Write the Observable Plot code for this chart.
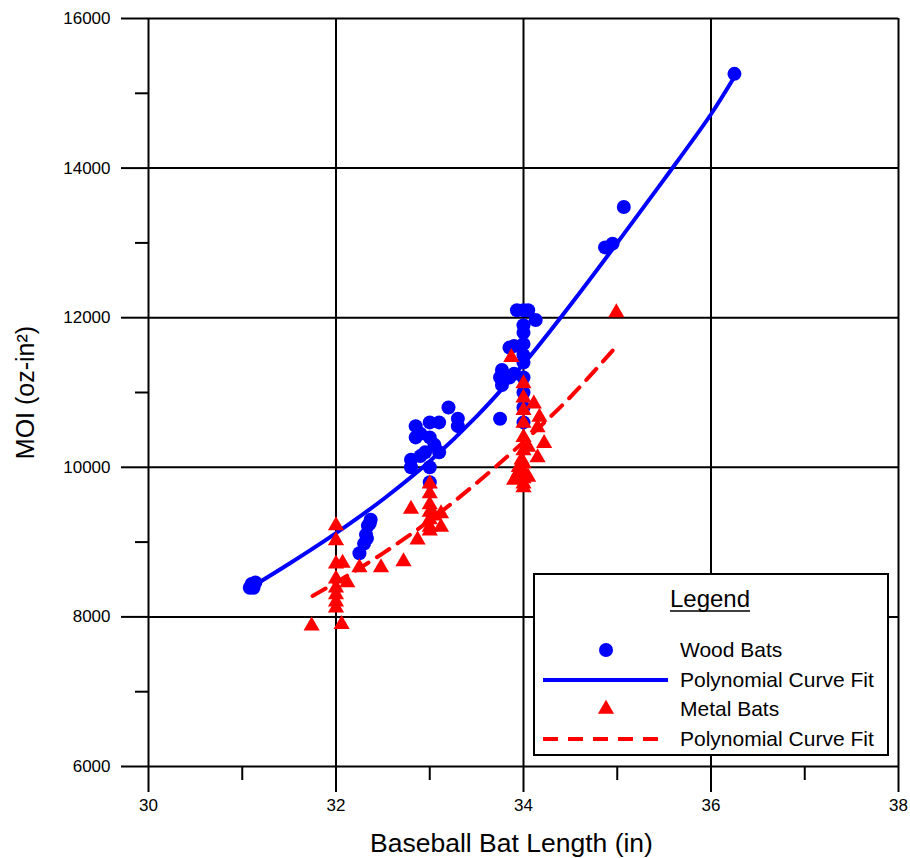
<!DOCTYPE html>
<html><head><meta charset="utf-8">
<script src="https://cdn.jsdelivr.net/npm/d3@7"></script>
<script src="https://cdn.jsdelivr.net/npm/@observablehq/plot@0.6"></script>
<style>
body{margin:0;background:#fff;}
#wrap{position:relative;width:910px;height:858px;}
</style></head><body><div id="wrap"></div>
<script>
// ---- data ----
const woodLength = [31.08, 31.12, 31.10, 31.14,
  32.25, 32.30, 32.32, 32.34, 32.37, 32.36, 32.33,
  32.85, 33.00, 33.10, 33.20, 33.30, 33.30, 32.85, 33.00, 32.80, 32.80, 32.95, 33.10, 33.00, 33.00, 32.90, 32.90, 33.05,
  34.00, 33.93, 34.13, 34.00, 34.00, 33.90, 33.85, 33.77, 33.75, 33.77, 33.85, 33.90, 34.00, 34.00, 34.00, 34.00, 34.00, 34.00, 33.75, 34.00, 34.05,
  35.07, 34.87, 34.95, 36.25];
const woodMOI = [8390, 8390, 8440, 8460,
  8850, 8980, 9100, 9220, 9300, 9250, 9050,
  10550, 10600, 10600, 10800, 10650, 10550, 10400, 10400, 10100, 10000, 10200, 10200, 10000, 9800, 10150, 10450, 10300,
  12100, 12100, 11970, 11800, 11650, 11620, 11600, 11300, 11200, 11100, 11200, 11250, 11500, 11400, 11200, 11000, 10800, 10600, 10650, 11900, 12100,
  13480, 12940, 12990, 15260];

const metalLength = [31.74, 32.06,
  32.00, 32.00, 32.00, 32.00, 32.00, 32.00, 32.00, 32.00,
  32.07, 32.12, 32.25, 32.48, 32.72, 32.80,
  33.00, 33.00, 33.00, 33.00, 33.00, 33.00, 33.00,
  33.12, 33.12, 32.87, 33.05,
  34.00, 34.00, 34.00, 34.00, 34.00, 34.00, 34.00, 34.00, 34.00, 34.00, 34.00,
  33.87, 34.11, 34.17, 34.15, 34.22, 34.15, 34.05, 33.94, 33.90, 34.05, 33.95, 33.98,
  34.99];
const metalMOI = [7880, 7900,
  9220, 9020, 8710, 8510, 8390, 8300, 8200, 8120,
  8720, 8460, 8660, 8660, 8740, 9440,
  9780, 9650, 9500, 9400, 9300, 9200, 9150,
  9380, 9200, 9030, 9350,
  11120, 10930, 10760, 10590, 10400, 10225, 10050, 9950, 9850, 9780, 9730,
  11470, 10850, 10670, 10530, 10320, 10130, 10270, 9920, 9830, 9870, 10000, 10100,
  12070];

const woodFitLength = [31.1, 31.5, 32.0, 32.5, 33.0, 33.5, 34.0, 34.5, 35.0, 35.5, 36.0, 36.25];
const woodFitMOI    = [8400, 8710, 9120, 9570, 10080, 10680, 11380, 12170, 13000, 13850, 14720, 15220];

const metalFitLength = [31.75, 32.0, 32.5, 33.0, 33.5, 34.0, 34.5, 34.95];
const metalFitMOI    = [8280, 8460, 8850, 9290, 9790, 10340, 10940, 11560];

const xMajorTicks = [30, 32, 34, 36, 38];
const xMinorTicks = [31, 33, 35, 37];
const yMajorTicks = [6000, 8000, 10000, 12000, 14000, 16000];
const yMinorTicks = [7000, 9000, 11000, 13000, 15000];

const xTitle = "Baseball Bat Length (in)";
const yTitle = "MOI (oz-in²)";
const legendTitle = "Legend";
const legendLabels = ["Wood Bats", "Polynomial Curve Fit", "Metal Bats", "Polynomial Curve Fit"];

const BLUE = "#0000ff", RED = "#ff0000";
const FONT = "'Liberation Sans', Arial, sans-serif";

const wood = woodLength.map((x, i) => ({x, y: woodMOI[i]}));
const metal = metalLength.map((x, i) => ({x, y: metalMOI[i]}));
const woodFit = woodFitLength.map((x, i) => ({x, y: woodFitMOI[i]}));
const metalFit = metalFitLength.map((x, i) => ({x, y: metalFitMOI[i]}));

const chart = Plot.plot({
  width: 910, height: 858,
  marginLeft: 148, marginRight: 12, marginTop: 18, marginBottom: 92,
  style: {fontFamily: FONT, fontSize: "17px", background: "white", color: "black", overflow: "visible"},
  x: {domain: [30, 38]},
  y: {domain: [6000, 16000]},
  marks: [
    Plot.ruleX(xMajorTicks, {stroke: "black", strokeWidth: 2}),
    Plot.ruleY(yMajorTicks, {stroke: "black", strokeWidth: 2}),
    Plot.axisX(xMajorTicks, {tickSize: 26, text: null, strokeWidth: 2, strokeOpacity: 1, label: null}),
    Plot.axisX(xMinorTicks, {tickSize: 14, text: null, strokeWidth: 2, strokeOpacity: 1, label: null}),
    Plot.axisY(yMajorTicks, {tickSize: 27, text: null, strokeWidth: 2, strokeOpacity: 1, label: null}),
    Plot.axisY(yMinorTicks, {tickSize: 13, text: null, strokeWidth: 2, strokeOpacity: 1, label: null}),
    Plot.text(xMajorTicks, {x: d => d, text: d => String(d), frameAnchor: "bottom", dy: 39, fontSize: 17, lineAnchor: "middle", textAnchor: "middle"}),
    Plot.text(yMajorTicks, {y: d => d, text: d => String(d), frameAnchor: "left", dx: -38, fontSize: 17, lineAnchor: "middle", textAnchor: "end"}),
    Plot.dot(wood, {x: "x", y: "y", r: 7, fill: BLUE, stroke: null}),
    Plot.line(woodFit, {x: "x", y: "y", stroke: BLUE, strokeWidth: 4, curve: "catmull-rom"}),
    Plot.dot(metal, {x: "x", y: "y", symbol: "triangle", r: 6, fill: RED, stroke: null}),
    Plot.line(metalFit, {x: "x", y: "y", stroke: RED, strokeWidth: 4, strokeDasharray: "15,10", curve: "catmull-rom"}),
    Plot.text([xTitle], {frameAnchor: "bottom", dx: -12, dy: 77, fontSize: 26.5, lineAnchor: "middle", textAnchor: "middle"}),
    Plot.text([yTitle], {frameAnchor: "left", dx: -123, rotate: -90, fontSize: 25, lineAnchor: "middle", textAnchor: "middle"})
  ]
});
document.getElementById("wrap").appendChild(chart);

// ---- legend box ----
const svg = d3.select(chart);
const g = svg.append("g").attr("font-family", FONT).attr("text-anchor", "start");
g.append("rect").attr("x", 534).attr("y", 574).attr("width", 354).attr("height", 181)
  .attr("fill", "white").attr("stroke", "black").attr("stroke-width", 2);
const lt = g.append("text").attr("x", 710).attr("y", 607).attr("text-anchor", "middle")
  .attr("font-size", 24).attr("fill", "black").text(legendTitle);
const tw = lt.node().getComputedTextLength();
g.append("line").attr("x1", 710 - tw / 2).attr("x2", 710 + tw / 2).attr("y1", 611).attr("y2", 611)
  .attr("stroke", "black").attr("stroke-width", 1.5);
const rows = [650, 680, 709, 739];
g.append("path").attr("d", d3.symbol(d3.symbolCircle, 7 * 7 * Math.PI)()).attr("transform", `translate(606,${rows[0]})`).attr("fill", BLUE);
g.append("line").attr("x1", 543).attr("x2", 668).attr("y1", rows[1]).attr("y2", rows[1]).attr("stroke", BLUE).attr("stroke-width", 4);
g.append("path").attr("d", d3.symbol(d3.symbolTriangle, 6 * 6 * Math.PI)()).attr("transform", `translate(606,${rows[2]})`).attr("fill", RED);
g.append("line").attr("x1", 543).attr("x2", 668).attr("y1", rows[3]).attr("y2", rows[3]).attr("stroke", RED).attr("stroke-width", 4).attr("stroke-dasharray", "15,10");
legendLabels.forEach((t, i) => {
  g.append("text").attr("x", 680).attr("y", rows[i] + 7).attr("text-anchor", "start").attr("font-size", 21).attr("fill", "black").text(t);
});
</script></body></html>
